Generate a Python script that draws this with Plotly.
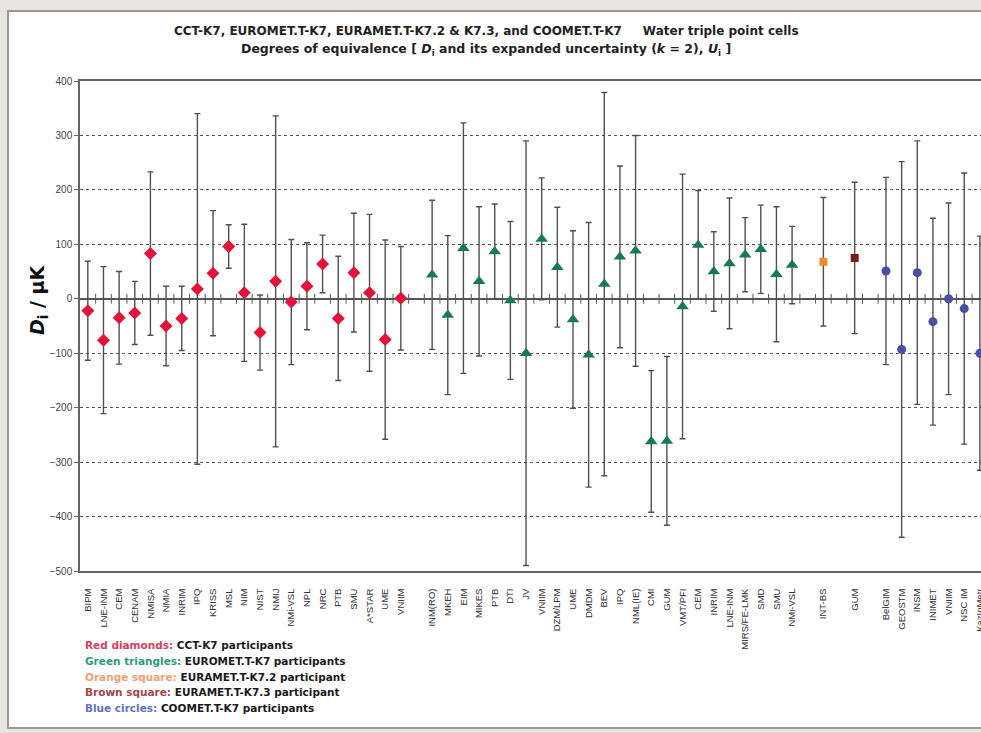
import plotly.graph_objects as go

# ---------------- data ----------------
categories = [
    "BIPM", "LNE-INM", "CEM", "CENAM", "NMISA", "NMIA", "INRIM", "IPQ", "KRISS", "MSL",
    "NIM", "NIST", "NMIJ", "NMi-VSL", "NPL", "NRC", "PTB", "SMU", "A*STAR", "UME", "VNIIM",
    "",
    "INM(RO)", "MKEH", "EIM", "MIKES", "PTB", "DTI", "JV", "VNIIM", "DZM/LPM", "UME",
    "DMDM", "BEV", "IPQ", "NML(IE)", "CMI", "GUM", "VMT/PFI", "CEM", "INRIM", "LNE-INM",
    "MIRS/FE-LMK", "SMD", "SMU", "NMi-VSL",
    "", "INT-BS", "", "GUM", "",
    "BelGIM", "GEOSTM", "INSM", "INIMET", "VNIIM", "NSC IM", "KazInMetr",
]

# CCT-K7 (red diamonds)
cct_pos = list(range(0, 21))
cct_D = [-22, -76, -35, -26, 83, -50, -36, 18, 47, 96, 11, -62, 32, -6, 23, 64, -36, 48, 11, -75, 1]
cct_U = [91, 135, 85, 58, 150, 73, 59, 322, 115, 40, 126, 69, 304, 115, 80, 53, 114, 109, 144, 183, 95]

# EUROMET.T-K7 (green triangles)
eur_pos = list(range(22, 46))
eur_D = [44, -30, 93, 32, 87, -3, -100, 110, 58, -38, -103, 27, 77, 88, -262, -261, -14,
         99, 50, 65, 81, 91, 45, 62]
eur_U = [137, 146, 230, 137, 87, 145, 390, 112, 110, 163, 243, 352, 167, 212, 130, 155, 243,
         100, 73, 120, 68, 81, 124, 71]

# EURAMET.T-K7.2 (orange square)
k72_pos = [47]
k72_D = [68]
k72_U = [118]

# EURAMET.T-K7.3 (brown square)
k73_pos = [49]
k73_D = [75]
k73_U = [139]

# COOMET.T-K7 (blue circles)
coo_pos = list(range(51, 58))
coo_D = [51, -93, 48, -42, 0, -18, -100]
coo_U = [172, 345, 242, 190, 176, 249, 215]

y_ticks = [-500, -400, -300, -200, -100, 0, 100, 200, 300, 400]

legend_lines = [
    ("Red diamonds:", " CCT-K7 participants", "#d9415f"),
    ("Green triangles:", " EUROMET.T-K7 participants", "#2f9c82"),
    ("Orange square:", " EURAMET.T-K7.2 participant", "#f0a272"),
    ("Brown square:", " EURAMET.T-K7.3 participant", "#a24848"),
    ("Blue circles:", " COOMET.T-K7 participants", "#6272c2"),
]

# ---------------- figure ----------------
W, H = 981, 733
L, R, T, B = 80, 0, 81, 162
PW, PH = W - L - R, H - T - B
FONT = "Arial, Liberation Sans, sans-serif"
WIDE = "DejaVu Sans, Verdana, sans-serif"
ERR_COLOR = "#505050"

fig = go.Figure()


def add_series(pos, D, U, symbol, color, size, name):
    fig.add_trace(go.Scatter(
        x=pos, y=D, mode="markers", name=name,
        marker=dict(symbol=symbol, color=color, size=size, line=dict(width=0)),
        error_y=dict(type="data", array=U, symmetric=True, color=ERR_COLOR,
                     thickness=1.4, width=3),
        showlegend=False,
    ))


# small tick marks along the zero line (category boundaries)
fig.add_trace(go.Scatter(
    x=[i + 0.5 for i in range(len(categories))], y=[0] * len(categories),
    mode="markers", marker=dict(symbol="line-ns", size=7,
                                line=dict(width=1, color="#555555")),
    hoverinfo="skip", showlegend=False,
))

add_series(cct_pos, cct_D, cct_U, "diamond", "#e3123a", 10, "CCT-K7")
add_series(eur_pos, eur_D, eur_U, "triangle-up", "#17795a", 11, "EUROMET.T-K7")
add_series(k72_pos, k72_D, k72_U, "square", "#f08a2e", 8, "EURAMET.T-K7.2")
add_series(k73_pos, k73_D, k73_U, "square", "#7c1b1b", 8, "EURAMET.T-K7.3")
add_series(coo_pos, coo_D, coo_U, "circle", "#4b4ea3", 9, "COOMET.T-K7")

xmax = -0.5 + PW / 15.65
tick_vals = [i for i, c in enumerate(categories) if c]
tick_text = [c for c in categories if c]

fig.update_xaxes(
    range=[-0.5, xmax], automargin=False,
    tickmode="array", tickvals=tick_vals, ticktext=tick_text,
    tickangle=-90, tickfont=dict(family=FONT, size=9.5, color="#333333"),
    ticklabelstandoff=12, ticklabeloverflow="allow",
    showgrid=False, zeroline=False,
    showline=True, linecolor="#666666", linewidth=1.5, mirror=True,
    ticks="",
)
fig.update_yaxes(
    range=[-500, 400], automargin=False, tickmode="array", tickvals=y_ticks,
    tickfont=dict(family=FONT, size=10, color="#444444"),
    showgrid=True, gridcolor="#555555", griddash="dot", gridwidth=1,
    zeroline=True, zerolinecolor="#555555", zerolinewidth=1.5,
    showline=True, linecolor="#666666", linewidth=1.5, mirror=False,
    ticks="outside", ticklen=4, tickcolor="#666666",
)

annotations = [
    dict(text="<b>CCT-K7, EUROMET.T-K7, EURAMET.T-K7.2 &amp; K7.3, and COOMET.T-K7"
              "&nbsp;&nbsp;&nbsp;&nbsp;&nbsp;Water triple point cells</b>",
         x=(486 - L) / PW, y=(H - B - 31) / PH, xref="paper", yref="paper",
         showarrow=False, font=dict(family=WIDE, size=12, color="#222222"),
         xanchor="center", yanchor="middle"),
    dict(text="<b>Degrees of equivalence [ <i>D</i><sub>i</sub> and its expanded uncertainty "
              "(<i>k</i> = 2), <i>U</i><sub>i</sub> ]</b>",
         x=(486 - L) / PW, y=(H - B - 50) / PH, xref="paper", yref="paper",
         showarrow=False, font=dict(family=WIDE, size=12.5, color="#222222"),
         xanchor="center", yanchor="middle"),
    dict(text="<b><i>D</i><sub>i</sub> / µK</b>",
         x=(38 - L) / PW, y=(H - B - 300) / PH, xref="paper", yref="paper",
         showarrow=False, textangle=-90,
         font=dict(family=WIDE, size=19, color="#111111"),
         xanchor="center", yanchor="middle"),
]

leg_y = [645, 661, 677, 692, 708]
for (pre, rest, col), yy in zip(legend_lines, leg_y):
    annotations.append(dict(
        text=f"<b><span style='color:{col}'>{pre}</span>{rest}</b>",
        x=(83 - L) / PW, y=(H - B - yy) / PH, xref="paper", yref="paper",
        showarrow=False, xanchor="left", yanchor="middle",
        font=dict(family=WIDE, size=10.5, color="#1a1a1a"),
    ))

shapes = [
    dict(type="rect", xref="paper", yref="paper", layer="below",
         x0=(8 - L) / PW, x1=(W + 5 - L) / PW,
         y0=(H - B - 728) / PH, y1=(H - B - 11) / PH,
         fillcolor="white", line=dict(color="#9a9a9a", width=2)),
]

fig.update_layout(
    width=W, height=H, autosize=False,
    margin=dict(l=L, r=R, t=T, b=B, pad=0, autoexpand=False),
    paper_bgcolor="#e8e5de", plot_bgcolor="white",
    annotations=annotations, shapes=shapes,
    font=dict(family=FONT),
)

fig.write_html(
    "out.html",
    config={"displayModeBar": False},
    post_script="document.body.style.margin='0';document.body.style.overflow='hidden';",
)
